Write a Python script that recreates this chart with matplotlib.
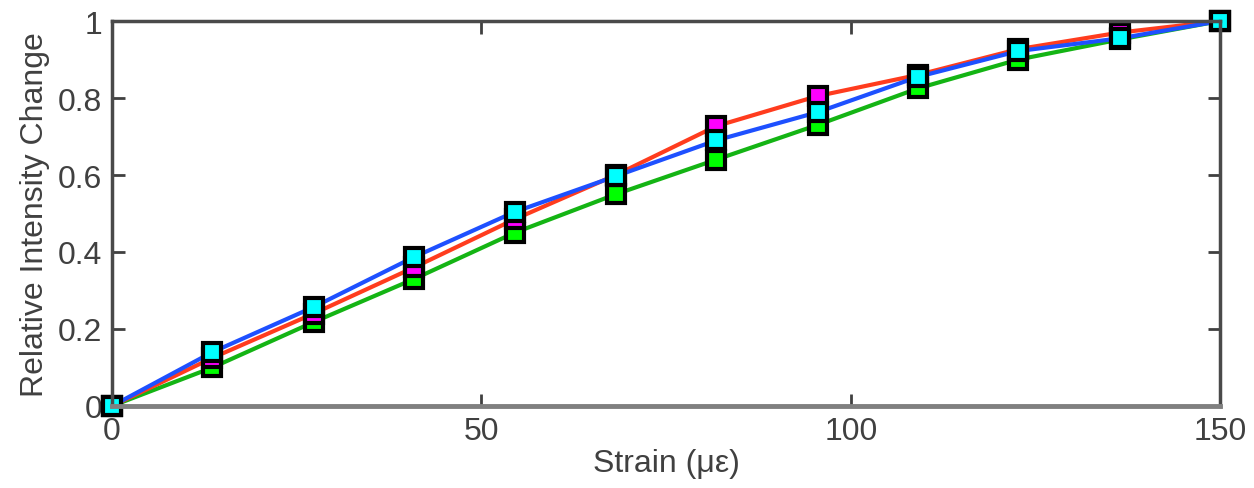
import matplotlib
matplotlib.use("Agg")
import matplotlib.pyplot as plt

plt.rcParams['font.family'] = ['Liberation Sans', 'DejaVu Sans']

# strain points (microstrain)
strain = [0, 13.6, 27.3, 40.9, 54.5, 68.2, 81.8, 95.5, 109.1, 122.7, 136.4, 150]

# relative intensity change, three curves
green_vals = [0, 0.10, 0.218, 0.33, 0.45, 0.55, 0.64, 0.73, 0.825, 0.9, 0.952, 1.0]
red_vals = [0, 0.125, 0.24, 0.36, 0.485, 0.60, 0.727, 0.805, 0.86, 0.927, 0.97, 1.0]
blue_vals = [0, 0.14, 0.257, 0.387, 0.504, 0.597, 0.69, 0.763, 0.855, 0.922, 0.955, 1.0]

xticks = [0, 50, 100, 150]
yticks = [0, 0.2, 0.4, 0.6, 0.8, 1]
ytick_labels = ["0", "0.2", "0.4", "0.6", "0.8", "1"]

fig = plt.figure(figsize=(12.54, 4.89), dpi=100)
ax = fig.add_axes([0.0893, 0.1677, 0.8837, 0.7873])

style = dict(marker="s", markersize=12.5, markeredgewidth=3,
             markeredgecolor="black", linewidth=3, clip_on=False)
ax.plot(strain, green_vals, color="#14b414", markerfacecolor="#00ff00", **style)
ax.plot(strain, red_vals, color="#ff3c1e", markerfacecolor="#ff00ff", **style)
ax.plot(strain, blue_vals, color="#1e50ff", markerfacecolor="#00ffff", **style)

ax.set_xlim(0, 150)
ax.set_ylim(0, 1)
ax.set_xticks(xticks)
ax.set_yticks(yticks)
ax.set_yticklabels(ytick_labels)

ax.tick_params(direction="in", length=9, width=2, colors="#404040",
               labelsize=23, top=True, right=True, pad=7)
for side in ["left", "top", "right"]:
    ax.spines[side].set_color("#4a4a4a")
    ax.spines[side].set_linewidth(2.5)
ax.spines["bottom"].set_color("#808080")
ax.spines["bottom"].set_linewidth(3.5)

ax.set_xlabel("Strain (με)", fontsize=23, color="#404040", labelpad=2)
ax.set_ylabel("Relative Intensity Change", fontsize=23, color="#404040", labelpad=6)

fig.savefig("out.png", dpi=100)
